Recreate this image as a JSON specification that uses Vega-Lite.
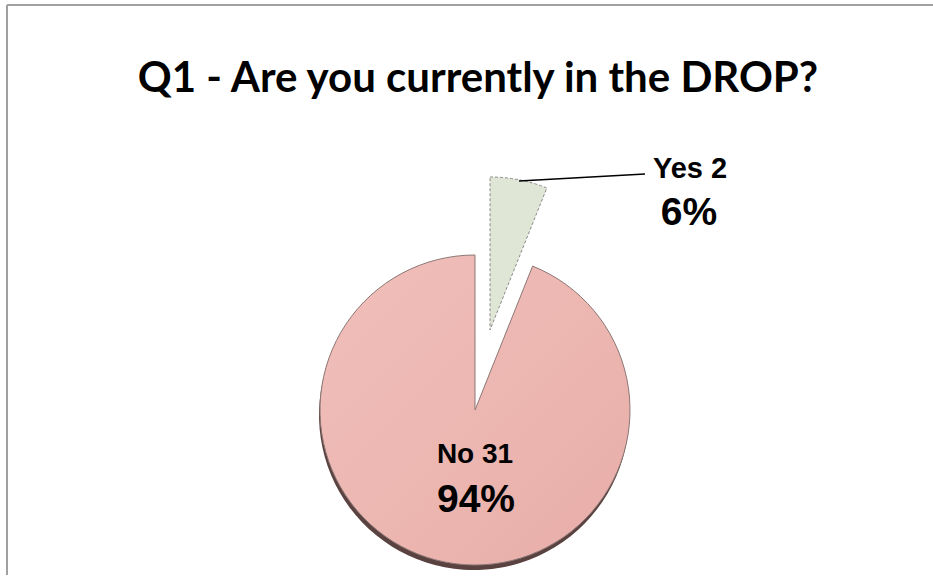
{
  "$schema": "https://vega.github.io/schema/vega-lite/v6.json",
  "width": 926,
  "height": 570,
  "autosize": {"type": "none"},
  "padding": {"left": 7, "top": 5, "right": 0, "bottom": 0},
  "background": "white",
  "view": {"stroke": "#a0a0a0", "strokeWidth": 2, "strokeDash": [926, 1496, 570, 0], "fill": "white"},
  "title": {
    "text": "Q1 - Are you currently in the DROP?",
    "font": "Lato",
    "fontSize": 42,
    "fontWeight": "bold",
    "color": "black",
    "anchor": "middle",
    "frame": "group",
    "offset": -129,
    "baseline": "alphabetic",
    "dx": 8
  },
  "data": {
    "values": [
      {"answer": "Yes", "count": 2, "label": "Yes 2", "pct": "6%", "order": 1},
      {"answer": "No", "count": 31, "label": "No 31", "pct": "94%", "order": 2}
    ]
  },
  "transform": [
    {"stack": "count", "groupby": [], "sort": [{"field": "order", "order": "ascending"}], "as": ["t0", "t1"]}
  ],
  "layer": [
    {
      "transform": [{"filter": "datum.answer === 'No'"}],
      "mark": {"type": "arc", "radius": 155, "xOffset": 4, "yOffset": 125, "fill": "#5a4240"},
      "encoding": {
        "theta": {"field": "t0", "type": "quantitative", "scale": {"domain": [0, 33]}},
        "theta2": {"field": "t1"}
      }
    },
    {
      "transform": [{"filter": "datum.answer === 'No'"}],
      "mark": {
        "type": "arc", "radius": 155, "xOffset": 5, "yOffset": 120,
        "fill": {"gradient": "linear", "x1": 0, "y1": 0, "x2": 1, "y2": 1,
          "stops": [{"offset": 0, "color": "#f1bfba"}, {"offset": 1, "color": "#e8aea9"}]},
        "stroke": "#8c7775", "strokeWidth": 1
      },
      "encoding": {
        "theta": {"field": "t0", "type": "quantitative", "scale": {"domain": [0, 33]}},
        "theta2": {"field": "t1"}
      }
    },
    {
      "transform": [{"filter": "datum.answer === 'Yes'"}],
      "mark": {
        "type": "arc", "radius": 153, "xOffset": 20, "yOffset": 40,
        "fill": "#e0e6d5", "stroke": "#8a8a8a", "strokeWidth": 1, "strokeDash": [3, 2]
      },
      "encoding": {
        "theta": {"field": "t0", "type": "quantitative", "scale": {"domain": [0, 33]}},
        "theta2": {"field": "t1"}
      }
    },
    {
      "transform": [{"filter": "datum.answer === 'Yes'"}],
      "mark": {"type": "rule", "stroke": "black", "strokeWidth": 1.5},
      "encoding": {
        "x": {"value": 512},
        "y": {"value": 176},
        "x2": {"value": 638},
        "y2": {"value": 169}
      }
    },
    {
      "transform": [{"filter": "datum.answer === 'Yes'"}],
      "mark": {"type": "text", "font": "Liberation Sans", "fontWeight": "bold", "fontSize": 29, "align": "center", "baseline": "middle", "xOffset": 220, "yOffset": -121, "color": "black"},
      "encoding": {"text": {"field": "label"}}
    },
    {
      "transform": [{"filter": "datum.answer === 'Yes'"}],
      "mark": {"type": "text", "font": "Liberation Sans", "fontWeight": "bold", "fontSize": 39, "align": "center", "baseline": "middle", "xOffset": 219, "yOffset": -77.5, "color": "black"},
      "encoding": {"text": {"field": "pct"}}
    },
    {
      "transform": [{"filter": "datum.answer === 'No'"}],
      "mark": {"type": "text", "font": "Liberation Sans", "fontWeight": "bold", "fontSize": 28, "align": "center", "baseline": "middle", "xOffset": 5, "yOffset": 165, "color": "black"},
      "encoding": {"text": {"field": "label"}}
    },
    {
      "transform": [{"filter": "datum.answer === 'No'"}],
      "mark": {"type": "text", "font": "Liberation Sans", "fontWeight": "bold", "fontSize": 39, "align": "center", "baseline": "middle", "xOffset": 6, "yOffset": 210, "color": "black"},
      "encoding": {"text": {"field": "pct"}}
    }
  ]
}
